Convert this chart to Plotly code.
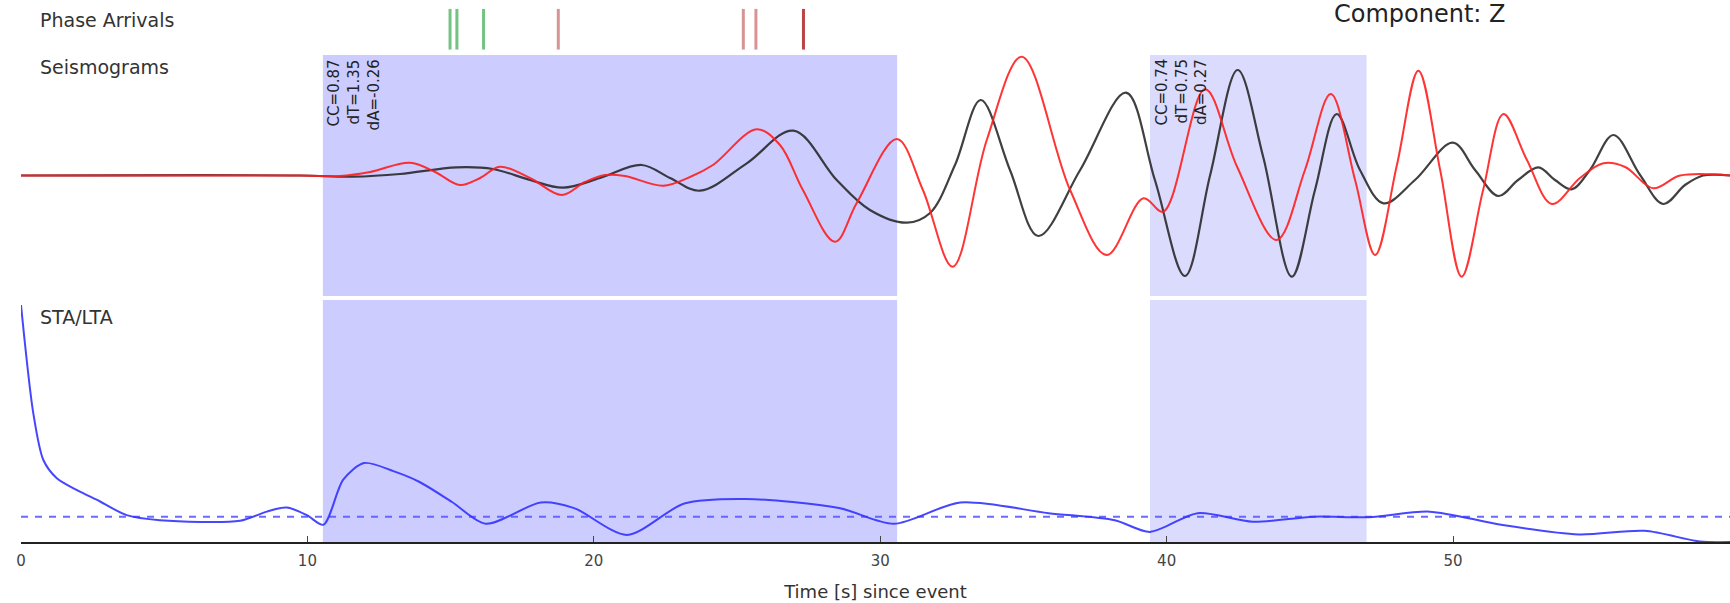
import plotly.graph_objects as go

# ---------------- data ----------------
# Observed seismogram (black)
time_black = [0.0, 9.74, 11.59, 13.23, 15.21, 16.48, 17.77, 18.92, 20.22, 21.67, 22.66, 23.71,
              25.34, 26.97, 28.48, 29.64, 30.93, 31.74, 32.61, 33.51, 34.53, 35.52, 36.98, 38.58,
              39.59, 40.64, 41.52, 42.48, 43.37, 44.37, 45.18, 45.94, 46.75, 47.57, 48.67, 49.99,
              50.77, 51.58, 52.27, 52.98, 53.56, 54.14, 54.78, 55.60, 56.53, 57.34, 58.10, 58.73, 59.67]
amp_black = [0.0, 0.0, -1.2, 1.5, 8.2, 6.5, -4.5, -12.2, -2.5, 10.5, -2.5, -15.2,
             12.2, 44.8, -4.5, -34.5, -47.2, -37.5, 10.5, 75.5, 5.5, -60.5, 5.5, 82.8,
             -4.5, -100.5, 0.5, 105.5, 18.8, -101.2, -14.5, 61.5, 5.5, -27.8, -4.5, 32.8,
             5.5, -20.5, -4.5, 8.2, -4.5, -13.8, 5.5, 40.5, 0.5, -28.5, -9.5, 0.0, 0.0]

# Synthetic seismogram (red)
time_red = [0.0, 9.74, 11.14, 12.19, 13.58, 14.46, 15.33, 16.03, 16.72, 17.77, 18.88, 19.69,
            20.39, 21.09, 22.42, 23.36, 24.16, 25.69, 26.50, 27.30, 28.42, 29.18, 30.58, 31.49,
            32.53, 33.72, 34.94, 36.63, 37.91, 39.19, 39.88, 41.34, 42.46, 43.84, 44.83, 45.73,
            46.58, 47.28, 48.04, 48.79, 49.55, 50.30, 51.05, 51.76, 52.58, 53.45, 54.43, 55.25,
            56.01, 56.99, 57.93, 59.67]
amp_red = [0.0, 0.0, -0.5, 3.5, 12.8, 3.5, -9.5, -2.5, 8.8, -2.5, -19.5, -6.5,
           0.5, -0.5, -10.2, -1.5, 10.5, 46.2, 30.5, -14.5, -66.2, -27.5, 36.5, -14.5,
           -91.2, 35.5, 118.8, -14.5, -79.5, -22.8, -36.2, 86.2, 8.8, -64.5, 5.5, 81.5,
           -4.5, -79.5, 10.5, 104.8, 5.5, -101.2, -14.5, 61.5, 15.5, -28.5, -2.5, 12.2,
           8.5, -12.8, 0.0, 0.0]

# STA/LTA characteristic function
time_stalta = [0.0, 0.43, 0.78, 1.25, 1.94, 2.76, 3.69, 4.85, 7.65, 8.58, 9.28, 9.98, 10.56,
               11.25, 11.98, 13.0, 13.9, 15.05, 16.23, 18.15, 19.31, 21.16, 23.16, 25.31, 28.56,
               30.48, 32.80, 35.88, 38.19, 39.42, 41.08, 43.01, 45.13, 47.06, 49.18, 51.68,
               54.38, 56.69, 58.62, 59.67]
stalta = [5.18, 3.04, 2.12, 1.76, 1.53, 1.30, 1.03, 0.93, 0.92, 1.10, 1.18, 1.03, 0.84,
          1.73, 2.06, 1.90, 1.69, 1.29, 0.86, 1.28, 1.17, 0.64, 1.26, 1.35, 1.17,
          0.86, 1.28, 1.07, 0.93, 0.70, 1.07, 0.90, 1.00, 0.99, 1.10, 0.84,
          0.65, 0.72, 0.51, 0.50]
stalta_threshold = 1.0

# Phase arrivals [s]
green_arrivals = [14.98, 15.22, 16.15]
red_arrivals = [18.76, 25.22, 25.66]
dark_red_arrivals = [27.32]

# Picked windows [s]
window_start = [10.54, 39.42]
window_end = [30.59, 46.98]
window_cc = ["CC=0.87", "CC=0.74"]
window_dt = ["dT=1.35", "dT=0.75"]
window_da = ["dA=-0.26", "dA=0.27"]
window_colors = ["rgba(204,204,255,1)", "rgba(219,219,253,1)"]

x_ticks = [0, 10, 20, 30, 40, 50]
x_range = [0.0, 59.67]
seis_range = [-120.5, 120.5]
stalta_range = [0.5, 5.28]

FONT = "DejaVu Sans"

# ---------------- figure ----------------
fig = go.Figure()


def vlines(times):
    xs, ys = [], []
    for t in times:
        xs += [t, t, None]
        ys += [0, 1, None]
    return xs, ys


for times, col in [(green_arrivals, "rgba(70,175,90,0.75)"),
                   (red_arrivals, "rgba(195,90,90,0.65)"),
                   (dark_red_arrivals, "rgba(175,35,35,0.85)")]:
    xs, ys = vlines(times)
    fig.add_trace(go.Scatter(x=xs, y=ys, mode="lines", xaxis="x3", yaxis="y3",
                             line=dict(color=col, width=3), hoverinfo="skip", showlegend=False))

fig.add_trace(go.Scatter(x=time_black, y=amp_black, mode="lines", xaxis="x2", yaxis="y2",
                         line=dict(color="rgba(30,30,30,0.85)", width=2.2, shape="spline", smoothing=1.0),
                         showlegend=False))
fig.add_trace(go.Scatter(x=time_red, y=amp_red, mode="lines", xaxis="x2", yaxis="y2",
                         line=dict(color="rgba(255,30,30,0.9)", width=2, shape="spline", smoothing=1.0),
                         showlegend=False))

fig.add_trace(go.Scatter(x=[time_stalta[0], time_stalta[-1]], y=[stalta_threshold, stalta_threshold],
                         mode="lines", xaxis="x", yaxis="y",
                         line=dict(color="rgba(90,90,255,0.9)", width=2, dash="7px,7px"),
                         showlegend=False))
fig.add_trace(go.Scatter(x=time_stalta, y=stalta, mode="lines", xaxis="x", yaxis="y",
                         line=dict(color="rgba(50,50,255,0.9)", width=2, shape="spline", smoothing=0.8),
                         showlegend=False))

shapes = []
annotations = []
for i in range(len(window_start)):
    for yref in ["y domain", "y2 domain"]:
        shapes.append(dict(type="rect", xref="x", yref=yref, x0=window_start[i], x1=window_end[i],
                           y0=0, y1=1, fillcolor=window_colors[i], line=dict(width=0), layer="below"))
    for txt, dx in [(window_cc[i], 11), (window_dt[i], 31), (window_da[i], 51)]:
        annotations.append(dict(text=txt, xref="x2", yref="y2 domain", x=window_start[i], y=1,
                                xshift=dx, yshift=-2, xanchor="center", yanchor="top",
                                textangle=-90, showarrow=False,
                                font=dict(family=FONT, size=15, color="#222")))

for txt, yy in [("Phase Arrivals", 0.963), ("Seismograms", 0.8764), ("STA/LTA", 0.4151)]:
    annotations.append(dict(text=txt, xref="paper", yref="paper", x=0.0099, y=yy,
                            xanchor="left", yanchor="middle", showarrow=False,
                            font=dict(family=FONT, size=19, color="#333")))
annotations.append(dict(text="Component: Z", xref="paper", yref="paper", x=0.8186, y=0.974,
                        xanchor="center", yanchor="middle", showarrow=False,
                        font=dict(family=FONT, size=24, color="#222")))

fig.update_layout(
    width=1730, height=603,
    margin=dict(l=21, r=0, t=0, b=61),
    paper_bgcolor="white", plot_bgcolor="white",
    shapes=shapes, annotations=annotations,
    xaxis=dict(anchor="y", domain=[0, 1], range=x_range, showgrid=False, zeroline=False,
               showline=True, linecolor="#222", linewidth=2, ticks="inside", ticklen=6,
               tickcolor="#444", tickwidth=1, tickvals=x_ticks, ticklabelstandoff=4,
               tickfont=dict(family=FONT, size=15, color="#444"),
               title=dict(text="Time [s] since event", standoff=16,
                          font=dict(family=FONT, size=18, color="#333"))),
    yaxis=dict(anchor="x", domain=[0, 0.4465], range=stalta_range, visible=False),
    xaxis2=dict(anchor="y2", matches="x", range=x_range, visible=False),
    yaxis2=dict(anchor="x2", domain=[0.4539, 0.8985], range=seis_range, visible=False),
    xaxis3=dict(anchor="y3", matches="x", range=x_range, visible=False),
    yaxis3=dict(anchor="x3", domain=[0.908, 0.984], range=[0, 1], visible=False),
)

fig.write_html("out.html", config={"displayModeBar": False},
               post_script="document.body.style.margin='0px';")
